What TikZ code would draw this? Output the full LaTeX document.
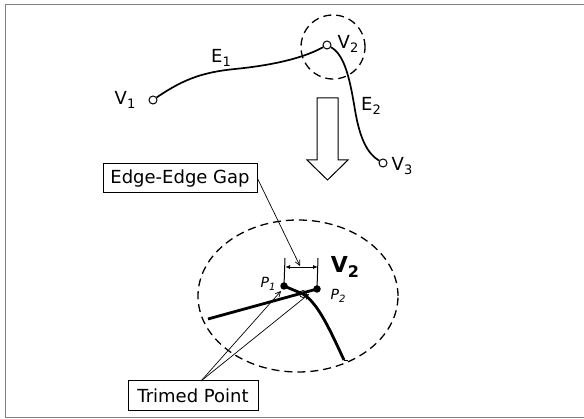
\documentclass[tikz,border=0pt]{standalone}
\usepackage{fontspec}
\setmainfont{DejaVu Sans}
\usetikzlibrary{arrows.meta,shapes.geometric}
\newcommand{\sbs}[2]{#1\raisebox{-0.4ex}{\fontsize{13}{13}\selectfont #2}}
\begin{document}
\begin{tikzpicture}[x=1pt,y=-1pt,
  lbl/.style={inner sep=0pt,font=\fontsize{18}{20}\selectfont},
  plbl/.style={inner sep=0pt,font=\fontsize{14}{16}\selectfont\itshape},
  vtx/.style={circle,draw,fill=white,line width=1pt,inner sep=0pt,minimum size=8pt},
  dot/.style={circle,fill=black,inner sep=0pt,minimum size=7.5pt},
  edge/.style={line width=1.7pt},
  thickedge/.style={line width=2.8pt},
  dashcirc/.style={dashed,dash pattern=on 8pt off 5pt,line width=1.3pt},
  boxnode/.style={draw,line width=1pt,inner sep=0pt,minimum width=154pt,minimum height=29pt,font=\fontsize{18}{20}\selectfont},
  thin/.style={line width=0.7pt},
  tip/.style={-{Straight Barb[length=5pt,width=5pt]}}
]
\useasboundingbox (0,0) rectangle (584,419);
% frame
\draw[gray,line width=1pt] (584,5) -- (5,5) -- (5,418) -- (584,418);

% top part
\node[vtx] (V1) at (153,100) {};
\node[vtx] (V2) at (327,45) {};
\node[vtx] (V3) at (383,163) {};
\node[lbl] (lV1) at (125,100) {\sbs{V}{1}};
\node[lbl] (lE1) at (221,58) {\sbs{E}{1}};
\node[lbl] (lV2) at (348,44) {\sbs{V}{2}};
\node[lbl] (lE2) at (371,106) {\sbs{E}{2}};
\node[lbl] (lV3) at (402,166) {\sbs{V}{3}};
\draw[edge] (V1) .. controls (185,78) and (205,72) .. (235,69) .. controls (265,66) and (300,60) .. (V2);
\draw[edge] (V2) .. controls (345,55) and (350,80) .. (355,110) .. controls (360,140) and (368,154) .. (V3);
\node[draw,circle,dashcirc,minimum size=64pt,inner sep=0pt] (zoomc) at (333,47) {};

% hollow arrow
\draw[line width=1pt,fill=white] (317,98) -- (338,98) -- (338,160) -- (348,160) -- (327.5,180) -- (307,160) -- (317,160) -- cycle;

% boxes
\node[boxnode,minimum width=154pt] (gap) at (180,178.5) {Edge-Edge Gap};
\node[boxnode,minimum width=130pt,minimum height=30pt] (trim) at (193,396) {Trimed Point};

% lower part
\node[draw,ellipse,dashcirc,minimum width=200pt,minimum height=152pt,inner sep=0pt] (big) at (298,296) {};
\coordinate (E1s) at (208,319);
\coordinate (E2e) at (344,360);
\node[dot] (P1) at (284,286) {};
\node[dot] (P2) at (317,289) {};
\coordinate (Vc) at (303,294);
\draw[thickedge] (E1s) -- (P2.center);
\draw[thickedge] (P1.center) -- (Vc) .. controls (318,303) and (330,330) .. (E2e);
\draw[line width=0.8pt] (E2e) -- ++(4,0);
\node[circle,draw,line width=0.8pt,inner sep=0pt,minimum size=7pt] (Vs) at (Vc) {};

% dimension
\coordinate (d1) at (285,258);
\coordinate (d2) at (318,258);
\draw[line width=1pt] (d1) -- (P1.center);
\draw[line width=1pt] (d2) -- (P2.center);
\coordinate (a1) at (285,267);
\coordinate (a2) at (318,267);
\draw[line width=0.9pt,{Latex[length=5pt,width=4pt]}-{Latex[length=5pt,width=4pt]}] (a1) -- (a2);
\coordinate (gapt) at (300,266);
\draw[thin,tip] (gap.east) -- (gapt);

\node[inner sep=0pt,font=\fontsize{22}{24}\selectfont\bfseries] (lV2b) at (345,267) {V\raisebox{-0.4ex}{\fontsize{16}{16}\selectfont 2}};
\node[plbl] (lP1) at (268,284) {P\raisebox{-0.4ex}{\fontsize{10}{10}\selectfont 1}};
\node[plbl] (lP2) at (338,296) {P\raisebox{-0.4ex}{\fontsize{10}{10}\selectfont 2}};

% trimmed point leaders
\coordinate (tpo) at (201,381);
\coordinate (t1) at (281,291);
\coordinate (t2) at (309,294);
\draw[thin,tip] (tpo) -- (t1);
\draw[thin,tip] (tpo) -- (t2);
\end{tikzpicture}
\end{document}
